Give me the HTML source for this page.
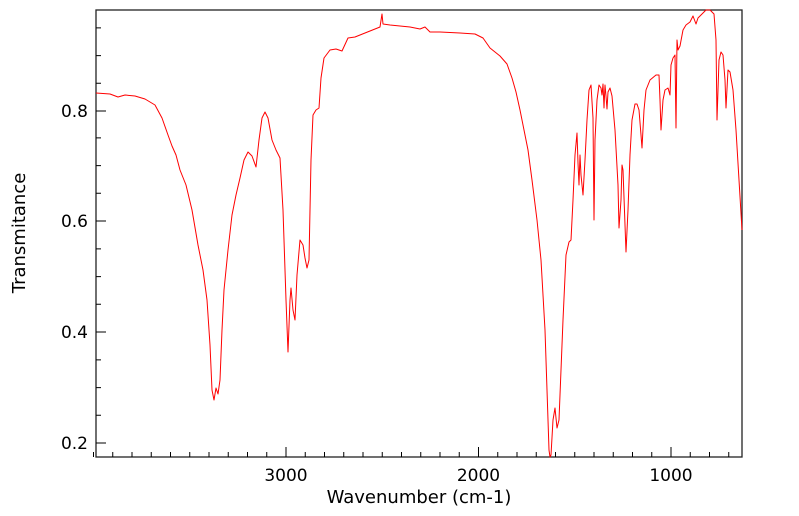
<!DOCTYPE html>
<html><head><meta charset="utf-8"><style>
html,body{margin:0;padding:0;background:#fff;}
svg{display:block;font-family:"DejaVu Sans","Liberation Sans",sans-serif;}
</style></head><body>
<svg width="799" height="516" viewBox="0 0 799 516" xmlns="http://www.w3.org/2000/svg">
<rect x="96" y="10" width="646" height="447" fill="none" stroke="#222" stroke-width="1.3"/>
<g stroke="#000" stroke-width="1">
<path d="M93.5,457v-5M112.75,457v-5M132,457v-5M151.25,457v-5M170.5,457v-5M189.75,457v-5M209,457v-5M228.25,457v-5M247.5,457v-5M266.75,457v-5M286,457v-10M305.25,457v-5M324.5,457v-5M343.75,457v-5M363,457v-5M382.25,457v-5M401.5,457v-5M420.75,457v-5M440,457v-5M459.25,457v-5M478.5,457v-10M497.75,457v-5M517,457v-5M536.25,457v-5M555.5,457v-5M574.75,457v-5M594,457v-5M613.25,457v-5M632.5,457v-5M651.75,457v-5M671,457v-10M690.25,457v-5M709.5,457v-5M728.75,457v-5"/>
<path d="M96,443h10M96,415.3h5M96,387.6h5M96,359.9h5M96,332h10M96,304.3h5M96,276.6h5M96,248.9h5M96,221h10M96,193.3h5M96,165.6h5M96,137.9h5M96,111h10M96,83.3h5M96,55.6h5M96,27.9h5"/>
</g>
<g font-size="17" fill="#000">
<text x="286" y="481" text-anchor="middle">3000</text>
<text x="478.5" y="481" text-anchor="middle">2000</text>
<text x="671" y="481" text-anchor="middle">1000</text>
<text x="88" y="449" text-anchor="end">0.2</text>
<text x="88" y="338" text-anchor="end">0.4</text>
<text x="88" y="227" text-anchor="end">0.6</text>
<text x="88" y="117" text-anchor="end">0.8</text>
<text x="419" y="503" text-anchor="middle" font-size="18">Wavenumber (cm-1)</text>
<text transform="translate(25,233) rotate(-90)" text-anchor="middle" font-size="18">Transmitance</text>
</g>
<polyline fill="none" stroke="#ff0000" stroke-width="1" stroke-linejoin="round" points="96,93 110,94 118,97 125,95 135,96 145,99 155,105 162,118 168,135 172,146 176,155 180,170 186,185 192,210 198,245 203,270 207,300 210,345 212,390 214,400 216,388 218,394 220,380 222,330 224,290 228,250 232,215 236,195 240,178 244,160 248,152 252,156 256,167 259,140 262,118 265,112 268,118 272,140 276,150 280,158 283,210 286,300 288,352 290,300 291,288 293,310 295,320 297,275 300,240 303,245 305,258 307,268 309,260 311,160 313,115 316,110 319,108 321,78 324,58 330,50 336,49 342,51 348,38 355,37 365,33 375,29 380,27 382,14 383,24 390,25 400,26 410,27 420,29 425,27 430,32 440,32 460,33 475,34 483,38 490,48 500,56 507,64 512,78 516,92 520,110 524,130 528,150 532,180 537,220 541,260 545,330 547,390 549,450 550,457 551,455 553,420 555,408 557,428 559,420 561,370 563,320 566,255 569,242 571,240 573,200 575,155 577,133 578,163 579,185 580,155 581,175 583,195 585,160 587,120 589,90 591,85 593,118 594,220 595,140 597,100 599,85 601,88 602,95 603,84 604,108 605,85 606,96 607,109 608,92 610,88 612,96 615,130 618,185 619,228 621,200 622,165 623,170 625,225 626,252 628,210 630,155 632,120 635,104 637,104 639,110 641,135 642,148 644,110 646,90 650,80 656,75 659,75 660,100 661,130 663,100 665,90 668,88 670,95 671,65 673,58 675,55 676,128 677,40 678,50 680,46 683,30 686,25 690,22 693,16 696,24 698,18 702,14 706,10 710,10 714,14 716,40 717,120 719,60 721,52 723,55 725,80 726,108 728,70 730,72 733,90 736,130 739,180 742,230"/>
</svg>
</body></html>
